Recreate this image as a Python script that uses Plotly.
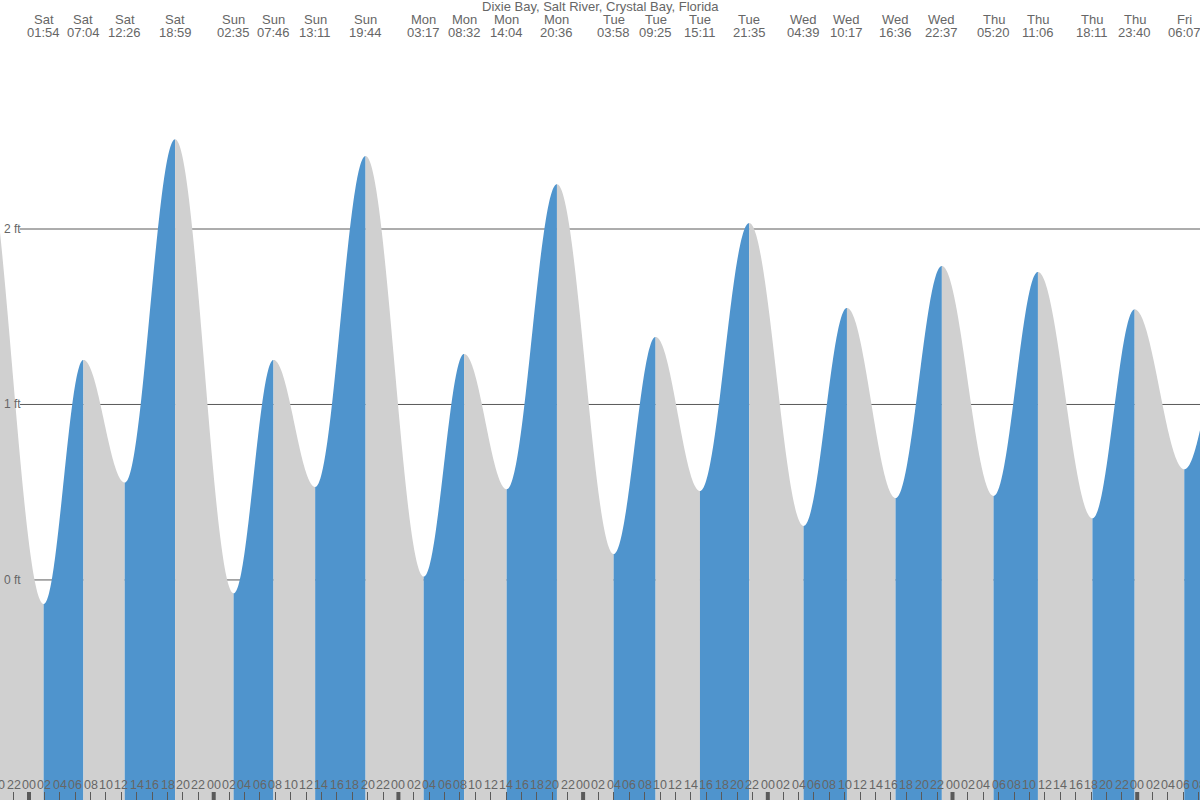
import numpy as np
import plotly.graph_objects as go

# ---------------- data ----------------
title_text = "Dixie Bay, Salt River, Crystal Bay, Florida"
day_offset = {"Fri0": -1, "Sat": 0, "Sun": 1, "Mon": 2, "Tue": 3, "Wed": 4, "Thu": 5, "Fri": 6}

event_day = ["Sat", "Sat", "Sat", "Sat", "Sun", "Sun", "Sun", "Sun",
             "Mon", "Mon", "Mon", "Mon", "Tue", "Tue", "Tue", "Tue",
             "Wed", "Wed", "Wed", "Wed", "Thu", "Thu", "Thu", "Thu", "Fri"]
event_time = ["01:54", "07:04", "12:26", "18:59", "02:35", "07:46", "13:11", "19:44",
              "03:17", "08:32", "14:04", "20:36", "03:58", "09:25", "15:11", "21:35",
              "04:39", "10:17", "16:36", "22:37", "05:20", "11:06", "18:11", "23:40", "06:07"]
event_height = [-0.137, 1.254, 0.555, 2.511, -0.076, 1.254, 0.530, 2.416,
                 0.019, 1.288, 0.517, 2.255, 0.148, 1.385, 0.507, 2.034,
                 0.308, 1.550, 0.467, 1.789, 0.479, 1.755, 0.351, 1.542, 0.631]

# extremes just outside the visible window (not labelled)
prev_day, prev_time, prev_height = "Fri0", "17:45", 2.55
next_day, next_time, next_height = "Fri", "12:10", 1.50

y_grid = [0, 1, 2]
y_grid_labels = ["0 ft", "1 ft", "2 ft"]

x_range = [-3.77, 152.16]   # hours since Sat 00:00
y_range = [-1.254, 3.305]   # feet

BLUE = "#4f94cd"
GRAY = "#d0d0d0"
TEXT = "#666666"
LINE = "#5a5a5a"
FONT = "Liberation Sans, Arial"


def to_hours(day, t):
    hh, mm = t.split(":")
    return day_offset[day] * 24 + int(hh) + int(mm) / 60.0


def to_paper_x(h):
    return (h - x_range[0]) / (x_range[1] - x_range[0])


all_h = [to_hours(prev_day, prev_time)] + [to_hours(d, t) for d, t in zip(event_day, event_time)] \
        + [to_hours(next_day, next_time)]
all_v = [prev_height] + event_height + [next_height]

fig = go.Figure()

# tide curve between successive extremes (cosine rule), filled to bottom
bottom = y_range[0] - 1
for i in range(len(all_h) - 1):
    h0, h1 = all_h[i], all_h[i + 1]
    v0, v1 = all_v[i], all_v[i + 1]
    s = np.linspace(0, 1, 80)
    xs = h0 + (h1 - h0) * s
    ys = v0 + (v1 - v0) * (1 - np.cos(np.pi * s)) / 2
    px = list(xs) + [h1, h0]
    py = list(ys) + [bottom, bottom]
    color = BLUE if v1 > v0 else GRAY
    fig.add_trace(go.Scatter(x=px, y=py, fill="toself", fillcolor=color,
                             mode="none", hoverinfo="skip", showlegend=False))

shapes = []
annotations = []

# horizontal reference lines
for g, lab in zip(y_grid, y_grid_labels):
    shapes.append(dict(type="line", xref="paper", yref="y", x0=20 / 1200, x1=1, y0=g, y1=g,
                       line=dict(color=LINE, width=1), layer="below"))
    annotations.append(dict(xref="paper", yref="y", x=2 / 1200, y=g, text=lab, showarrow=False,
                            xanchor="left", yanchor="middle",
                            font=dict(family=FONT, size=12, color=TEXT)))

# bottom hour ticks / labels
tick_hours = list(range(-4, 154, 2))
for h in tick_hours:
    annotations.append(dict(xref="paper", yref="paper", x=to_paper_x(h), y=15 / 800,
                            text="%02d" % (h % 24),
                            showarrow=False, xanchor="center", yanchor="middle",
                            font=dict(family=FONT, size=12.5, color=TEXT)))
midnights = [h for h in tick_hours if h % 24 == 0]
for h in midnights:
    shapes.append(dict(type="line", xref="x", yref="paper", x0=h, x1=h, y0=0, y1=8 / 800,
                       line=dict(color=LINE, width=4), layer="above"))

# top event labels
for d, t in zip(event_day, event_time):
    xp = to_paper_x(to_hours(d, t))
    annotations.append(dict(xref="paper", yref="paper", x=xp, y=1 - 19.5 / 800,
                            text=d, showarrow=False, xanchor="center", yanchor="middle",
                            font=dict(family=FONT, size=13, color=TEXT)))
    annotations.append(dict(xref="paper", yref="paper", x=xp, y=1 - 32 / 800,
                            text=t, showarrow=False, xanchor="center", yanchor="middle",
                            font=dict(family=FONT, size=13, color=TEXT)))

annotations.append(dict(xref="paper", yref="paper", x=0.5, y=1 - 6.5 / 800, text=title_text,
                        showarrow=False, xanchor="center", yanchor="middle",
                        font=dict(family=FONT, size=13, color=TEXT)))

fig.update_layout(
    width=1200, height=800,
    margin=dict(l=0, r=0, t=0, b=0),
    paper_bgcolor="white", plot_bgcolor="white",
    showlegend=False,
    shapes=shapes, annotations=annotations,
    xaxis=dict(range=x_range, showgrid=False, zeroline=False, showline=False,
               tickvals=tick_hours, ticks="inside", ticklen=8, tickwidth=1, tickcolor=LINE,
               showticklabels=False, fixedrange=True),
    yaxis=dict(range=y_range, showgrid=False, zeroline=False, showline=False,
               showticklabels=False, ticks="", fixedrange=True),
)

fig.write_html("out.html", config={"displayModeBar": False},
               post_script="document.body.style.margin='0';document.body.style.padding='0';"
                           "document.body.style.overflow='hidden';")
